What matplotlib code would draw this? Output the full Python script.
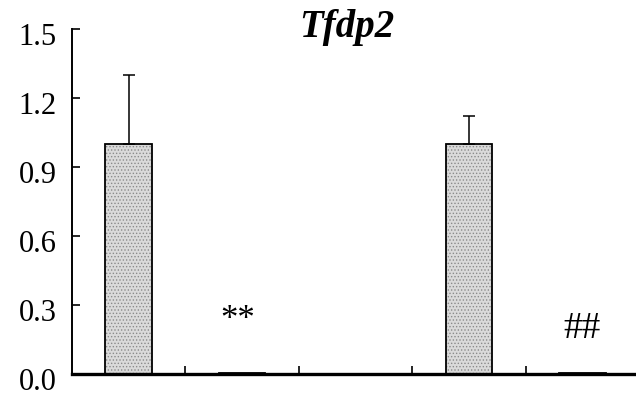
import matplotlib
matplotlib.use("Agg")
import matplotlib.pyplot as plt
from matplotlib.transforms import ScaledTranslation

# Data
positions = [1, 2, 4, 5]
values = [1.0, 0.006, 1.0, 0.004]
errors = [0.30, 0.0, 0.12, 0.0]
yticks = [0.0, 0.3, 0.6, 0.9, 1.2, 1.5]
ytick_labels = ["0.0", "0.3", "0.6", "0.9", "1.2", "1.5"]
xticks = [1.5, 2.5, 3.5, 4.5]
title = "Tfdp2"
marks = [(1.96, 0.195, "**", 25), (5.0, 0.157, "##", 27)]

plt.rcParams['font.family'] = ['Liberation Serif', 'DejaVu Serif']
plt.rcParams['hatch.linewidth'] = 0.6

fig = plt.figure(figsize=(6.36, 3.96), dpi=100)
ax = fig.add_axes([72/636, 22/396, 1 - 72/636 + 0.005, (374-29)/396])

w = 0.41
ax.bar(positions, values, width=w, color='#dadada', edgecolor='#8a8a8a',
       hatch='.....', linewidth=0, zorder=2)
ax.bar(positions, values, width=w, fill=False, edgecolor='black',
       linewidth=1.3, zorder=3)
for x, v, e in zip(positions, values, errors):
    if e > 0:
        ax.errorbar([x], [v], yerr=[[0], [e]], fmt='none', ecolor='black',
                    elinewidth=1.1, capsize=4, capthick=1.1, zorder=4)

for x, y, s, fs in marks:
    ax.text(x, y, s, ha='center', va='baseline', fontsize=fs, color='black')

ax.set_xlim(0.5, 5.5)
ax.set_ylim(0, 1.5)
ax.set_yticks(yticks)
ax.set_yticklabels(ytick_labels)
ax.set_xticks(xticks)
ax.set_xticklabels([])
ax.tick_params(axis='y', direction='in', length=6, width=1.2, labelsize=22, pad=11)
ax.tick_params(axis='x', direction='in', length=6, width=1.2)
for lab in ax.get_yticklabels():
    lab.set_transform(lab.get_transform() + ScaledTranslation(0, -5/100, fig.dpi_scale_trans))
for s in ['top', 'right']:
    ax.spines[s].set_visible(False)
ax.spines['left'].set_linewidth(1.4)
ax.spines['bottom'].set_linewidth(2.4)
ax.spines['left'].set_bounds(0, 1.5)

fig.text(0.545, 0.978, title, ha='center', va='top', fontsize=28,
         fontweight='bold', fontstyle='italic')

fig.savefig("out.png", dpi=100)
